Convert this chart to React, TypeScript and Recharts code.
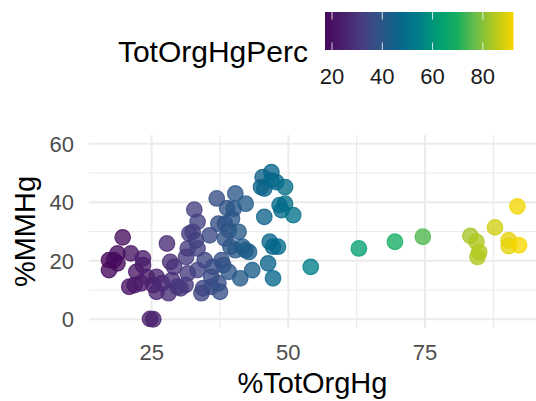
import React from 'react';
import { ScatterChart, Scatter, XAxis, YAxis, ReferenceLine, Label } from 'recharts';

const X_VALS = [
  17.2, 17.2, 18.1, 18.75, 18.75, 19.7, 21.2, 20.9, 21.9, 23.1, 22.2, 23.4, 23.4, 24.7, 25.3,
  24.1, 25.9, 25.9, 25.3, 26.9, 27.8, 28.1, 28.4, 29.1, 28.7, 29.7, 30.3, 31.2, 31.6, 31.6,
  31.3, 31.9, 32.5, 32.8, 33.4, 33.1, 33.4, 33.4, 34.1, 34.4, 34.7, 35.6, 35.9, 35.9, 36.2,
  36.9, 37.2, 37.5, 37.2, 37.8, 38.1, 38.4, 38.4, 38.8, 39.1, 39.1, 39.4, 39.7, 40.0, 40.3,
  40.3, 40.9, 41.2, 41.6, 42.2, 42.2, 42.8, 43.4, 45.0, 45.3, 45.6, 45.6, 46.3, 46.6, 46.9,
  46.9, 47.2, 47.2, 47.8, 48.1, 48.4, 48.75, 49.4, 49.4, 50.9, 54.1, 62.9, 69.5, 74.6, 83.3,
  84.4, 84.9, 84.6, 87.8, 90.3, 90.3, 92.2, 91.9,
];
const Y_VALS = [
  20.2, 16.8, 20.2, 19.1, 22.5, 28.0, 22.5, 11.1, 11.7, 12.3, 16.2, 20.8, 18.5, 0.1, 0.0,
  14.5, 14.5, 9.4, 11.7, 12.3, 25.9, 8.9, 19.6, 17.9, 13.4, 11.1, 10.6, 11.7, 15.7, 24.2,
  21.3, 29.3, 29.9, 37.5, 33.3, 27.0, 24.2, 16.8, 8.9, 10.6, 20.2, 28.7, 14.5, 11.1, 17.9,
  41.3, 32.7, 9.4, 12.3, 20.2, 18.5, 32.7, 27.6, 38.0, 30.4, 16.2, 24.8, 34.4, 37.8, 23.6,
  43.0, 29.9, 14.0, 24.8, 23.6, 39.5, 23.0, 16.8, 45.2, 48.6, 44.7, 35.0, 19.1, 26.5, 50.3,
  47.5, 14.0, 24.8, 46.9, 24.8, 39.0, 37.3, 39.5, 45.2, 35.6, 17.9, 24.2, 26.5, 28.2, 28.5,
  26.5, 23.0, 21.3, 31.4, 27.0, 25.0, 25.3, 38.6,
];

const X_DOMAIN = [13.54, 95.3];
const Y_DOMAIN = [-3, 63];
const X_TICKS = [25, 50, 75];
const X_MINOR = [37.5, 62.5, 87.5];
const Y_TICKS = [0, 20, 40, 60];
const Y_MINOR = [10, 30, 50];
const LEGEND_TICKS = [20, 40, 60, 80];
const COLOR_MIN = 17.2;
const COLOR_MAX = 92.2;

// colour ramp as seen in the reference colourbar (viridis-like)
const RAMP = [
  '#46075a', '#4b206d', '#463d80', '#2c5688', '#05668a', '#007f88',
  '#009e74', '#16ad60', '#6cbd48', '#b3c81e', '#f7d700',
];

function hexToRgb(h: string) {
  return [parseInt(h.slice(1, 3), 16), parseInt(h.slice(3, 5), 16), parseInt(h.slice(5, 7), 16)];
}

function ramp(t: number) {
  const tt = Math.max(0, Math.min(1, t));
  const pos = tt * (RAMP.length - 1);
  const i = Math.min(RAMP.length - 2, Math.floor(pos));
  const f = pos - i;
  const a = hexToRgb(RAMP[i]);
  const b = hexToRgb(RAMP[i + 1]);
  const c = a.map((v, k) => Math.round(v + (b[k] - v) * f));
  return `rgb(${c[0]},${c[1]},${c[2]})`;
}

const colorOf = (v: number) => ramp((v - COLOR_MIN) / (COLOR_MAX - COLOR_MIN));

const FONT = '"Liberation Sans", Arial, Helvetica, sans-serif';
const GRID = '#ebebeb';

const BAR_LEFT = 325;
const BAR_RIGHT = 513.5;
const BAR_TOP = 12;
const BAR_BOTTOM = 50;

function ColorLegend() {
  const stops = RAMP.map((c, i) => (
    <stop key={i} offset={`${(i / (RAMP.length - 1)) * 100}%`} stopColor={c} />
  ));
  const pos = (v: number) => BAR_LEFT + ((v - COLOR_MIN) / (COLOR_MAX - COLOR_MIN)) * (BAR_RIGHT - BAR_LEFT);
  const h = BAR_BOTTOM - BAR_TOP;
  return (
    <svg width={536} height={110} style={{ position: 'absolute', left: 0, top: 0 }}>
      <defs>
        <linearGradient id="vir" x1="0" x2="1" y1="0" y2="0">{stops}</linearGradient>
      </defs>
      <text x={308} y={62} textAnchor="end" fontFamily={FONT} fontSize={30} fill="#000">TotOrgHgPerc</text>
      <rect x={BAR_LEFT} y={BAR_TOP} width={BAR_RIGHT - BAR_LEFT} height={h} fill="url(#vir)" />
      {LEGEND_TICKS.map((t) => (
        <g key={t}>
          <line x1={pos(t)} x2={pos(t)} y1={BAR_TOP} y2={BAR_TOP + h / 5} stroke="#fff" strokeOpacity={0.8} strokeWidth={1} />
          <line x1={pos(t)} x2={pos(t)} y1={BAR_BOTTOM - h / 5} y2={BAR_BOTTOM} stroke="#fff" strokeOpacity={0.8} strokeWidth={1} />
          <text x={pos(t)} y={84} textAnchor="middle" fontFamily={FONT} fontSize={22} fill="#1a1a1a">{t}</text>
        </g>
      ))}
    </svg>
  );
}

const XTick = (props: any) => {
  const { x, payload } = props;
  return (
    <text x={x} y={360} textAnchor="middle" fontFamily={FONT} fontSize={22} fill="#4d4d4d">{payload.value}</text>
  );
};

const YTick = (props: any) => {
  const { y, payload } = props;
  return (
    <text x={74} y={y} dy="0.36em" textAnchor="end" fontFamily={FONT} fontSize={22} fill="#4d4d4d">{payload.value}</text>
  );
};

const XTitle = (props: any) => {
  const vb = props.viewBox || {};
  const cx = (vb.x ?? 89) + (vb.width ?? 447) / 2;
  return (
    <text x={cx} y={393} textAnchor="middle" fontFamily={FONT} fontSize={29} fill="#000">%TotOrgHg</text>
  );
};

const YTitle = (props: any) => {
  const vb = props.viewBox || {};
  const cy = (vb.y ?? 135) + (vb.height ?? 193) / 2;
  return (
    <text x={35} y={cy} textAnchor="middle" transform={`rotate(-90 35 ${cy})`} fontFamily={FONT} fontSize={29} fill="#000">%MMHg</text>
  );
};

const Dot = (props: any) => {
  const { cx, cy, payload } = props;
  const c = colorOf(payload.x);
  return <circle cx={cx} cy={cy} r={7.8} fill={c} fillOpacity={0.78} stroke={c} strokeOpacity={0.78} strokeWidth={1.2} />;
};

export default function App() {
  const data = X_VALS.map((x, i) => ({ x, y: Y_VALS[i] }));
  return (
    <div style={{ position: 'absolute', left: 0, top: 0, width: 536, height: 401, background: '#fff', fontFamily: FONT }}>
      <ColorLegend />
      <div style={{ position: 'absolute', left: 0, top: 0 }}>
        <ScatterChart width={536} height={401} margin={{ top: 135, right: 0, bottom: 0, left: 0 }}>
          {X_MINOR.map((v) => (
            <ReferenceLine key={'xm' + v} x={v} stroke={GRID} strokeWidth={1.2} />
          ))}
          {Y_MINOR.map((v) => (
            <ReferenceLine key={'ym' + v} y={v} stroke={GRID} strokeWidth={1.2} />
          ))}
          {X_TICKS.map((v) => (
            <ReferenceLine key={'xM' + v} x={v} stroke={GRID} strokeWidth={2} />
          ))}
          {Y_TICKS.map((v) => (
            <ReferenceLine key={'yM' + v} y={v} stroke={GRID} strokeWidth={2} />
          ))}
          <XAxis
            type="number"
            dataKey="x"
            domain={X_DOMAIN}
            ticks={X_TICKS}
            allowDataOverflow
            axisLine={false}
            tickLine={false}
            height={73}
            tick={<XTick />}
          >
            <Label content={<XTitle />} />
          </XAxis>
          <YAxis
            type="number"
            dataKey="y"
            domain={Y_DOMAIN}
            ticks={Y_TICKS}
            allowDataOverflow
            axisLine={false}
            tickLine={false}
            width={89}
            tick={<YTick />}
          >
            <Label content={<YTitle />} />
          </YAxis>
          <Scatter data={data} isAnimationActive={false} shape={<Dot />} />
        </ScatterChart>
      </div>
    </div>
  );
}
